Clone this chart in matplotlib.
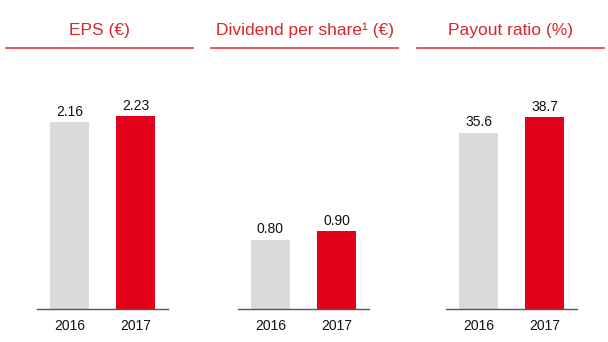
import matplotlib
matplotlib.use('Agg')
import matplotlib.pyplot as plt
from matplotlib.lines import Line2D

plt.rcParams['font.family'] = ['Liberation Sans', 'DejaVu Sans']

# chart data
years = ['2016', '2017']
eps = [2.16, 2.23]
dividend = [0.80, 0.90]
payout = [35.6, 38.7]
titles = ['EPS (€)', 'Dividend per share¹ (€)', 'Payout ratio (%)']
labels = [['2.16', '2.23'], ['0.80', '0.90'], ['35.6', '38.7']]

bar_colors = ['#d9dadb', '#e2001a']
title_red = '#d7262c'

W, H = 608, 342
fig = plt.figure(figsize=(W / 100, H / 100), dpi=100)

# pixel positions of each panel (left of baseline, title line span)
base_left = [37, 238, 446]
base_width = 131
title_lines = [(6, 193), (211, 398), (417, 604)]
base_y = 309
top_y = 60
ylims = [2.88, 2.88, 50.3]

series = [eps, dividend, payout]
for i in range(3):
    ax = fig.add_axes([base_left[i] / W, 1 - base_y / H,
                       base_width / W, (base_y - top_y) / H])
    bars = ax.bar([0, 1], series[i], width=0.58, color=bar_colors)
    ax.set_xlim(-0.49, 1.49)
    ax.set_ylim(0, ylims[i])
    for b, lab in zip(bars, labels[i]):
        ax.annotate(lab, (b.get_x() + b.get_width() / 2, b.get_height()),
                    xytext=(0, 2.5), textcoords='offset points',
                    ha='center', va='bottom', fontsize=10, color='#111111')
    ax.set_xticks([0, 1])
    ax.set_xticklabels(years, fontsize=10, color='#111111')
    ax.tick_params(axis='x', length=0, pad=7)
    ax.set_yticks([])
    for s in ['top', 'right', 'left']:
        ax.spines[s].set_visible(False)
    ax.spines['bottom'].set_color('#555555')
    ax.spines['bottom'].set_linewidth(1.0)

    # title and underline
    x0, x1 = title_lines[i]
    fig.text((x0 + x1) / 2 / W, 1 - 30 / H, titles[i], ha='center', va='center',
             fontsize=12.5, color=title_red)
    fig.add_artist(Line2D([x0 / W, x1 / W], [1 - 47.5 / H, 1 - 47.5 / H],
                          color='#dd4a4e', linewidth=1.3))

fig.savefig('out.png', dpi=100)
